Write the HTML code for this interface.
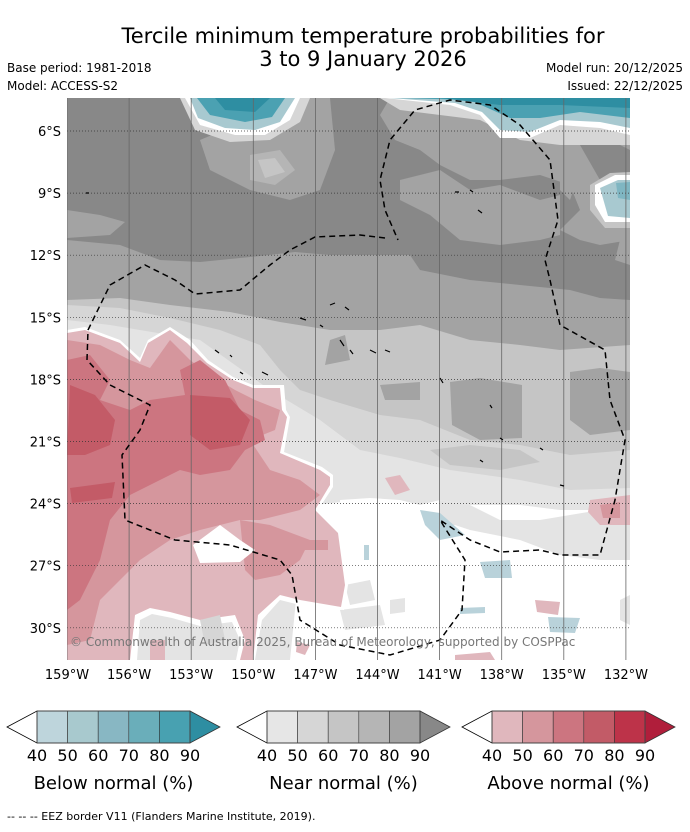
<!DOCTYPE html>
<html><head><meta charset="utf-8"><style>
body{margin:0;background:#fff;width:690px;height:827px;overflow:hidden;font-family:"Liberation Sans",sans-serif}
svg text{font-family:"DejaVu Sans","Liberation Sans",sans-serif}
</style></head><body>
<svg id="s" width="690" height="827">
<text x="363" y="43" font-size="21" text-anchor="middle">Tercile minimum temperature probabilities for</text>
<text x="363" y="66" font-size="21" text-anchor="middle">3 to 9 January 2026</text>
<text x="7" y="72" font-size="12">Base period: 1981-2018</text>
<text x="7" y="90" font-size="12">Model: ACCESS-S2</text>
<text x="683" y="72" font-size="12" text-anchor="end">Model run: 20/12/2025</text>
<text x="683" y="90" font-size="12" text-anchor="end">Issued: 22/12/2025</text>
<defs><clipPath id="c"><rect x="67" y="98" width="563" height="562"/></clipPath></defs>
<g clip-path="url(#c)">
<rect x="67" y="98" width="563" height="562" fill="#a3a3a3"/>
<path fill="#888" d="M67 98H190L200 125 240 140 280 135 300 98H390L380 115 395 140 420 150 440 165 470 180 500 180 540 175 570 185 580 210 560 230 580 240 600 245 630 240V300L600 298 570 290 520 285 470 280 420 270 410 255 330 255 295 252 260 256 200 262 160 260 120 245 67 240Z"/>
<path fill="#a3a3a3" d="M67 210 100 215 125 222 110 235 67 238Z"/>
<path fill="#a3a3a3" d="M300 98H330L335 150 320 190 290 200 250 190 210 170 200 140Z"/>
<path fill="#b5b5b5" d="M250 155 280 150 295 170 275 185 250 180Z"/>
<path fill="#c5c5c5" d="M258 160 275 158 285 172 265 178Z"/>
<path fill="#a3a3a3" d="M400 180 440 170 470 190 500 185 540 200 560 195 560 235 540 240 500 245 460 240 430 215 400 200Z"/>
<path fill="#a3a3a3" d="M560 140 600 135 630 140V150L600 155 580 170 570 200 560 190Z"/>
<path fill="#888" d="M580 145 610 140 630 150V180L600 180Z"/>
<path fill="#a3a3a3" d="M620 240 630 238V265L615 260Z"/>
<path fill="#c5c5c5" d="M67 300 120 298 170 305 230 312 280 322 330 330 380 330 420 325 470 340 520 345 560 350 630 345V660H67Z"/>
<path fill="#a3a3a3" d="M330 340 345 335 350 360 325 365Z"/>
<path fill="#a3a3a3" d="M450 382 480 378 522 385 522 438 480 440 452 425Z"/>
<path fill="#a3a3a3" d="M570 372 600 368 630 372V430L590 435 570 420Z"/>
<path fill="#a3a3a3" d="M380 385 420 382 420 400 385 400Z"/>
<path fill="#d6d6d6" d="M67 305 120 308 170 318 220 330 260 345 280 370 300 390 330 400 380 415 420 420 470 440 520 445 570 455 630 450V660H67Z"/>
<path fill="#c5c5c5" d="M430 450 470 445 520 450 540 462 500 470 450 465Z"/>
<path fill="#e4e4e4" d="M67 320 110 325 200 340 270 390 320 420 360 450 400 458 450 470 520 480 570 490 630 488V660H67Z"/>
<path fill="#fff" d="M315 505 360 500 400 505 430 525 470 525 520 530 560 540 600 545 630 540V660H290L300 560Z"/>
<path fill="#fff" d="M630 505 600 510 560 510 520 505 470 505 440 500 420 505 400 500 370 498 340 500V520L630 525Z"/>
<path fill="#e4e4e4" d="M440 500 470 505 500 520 540 520 600 510 630 505V560L600 560 560 555 520 540 470 530 440 520Z"/>
<path fill="#e4e4e4" d="M345 585 370 580 375 600 350 605Z"/>
<path fill="#e4e4e4" d="M340 610 380 605 385 625 345 630Z"/>
<path fill="#e4e4e4" d="M390 600 405 598 405 612 390 614Z"/>
<path fill="#e4e4e4" d="M620 600 630 595V625L620 620Z"/>
<path fill="#fff" d="M67 330 85 327 120 340 140 358 148 340 170 327 190 340 208 360 233 377 253 385 284 385 286 410 290 417 284 452 322 467 333 475 333 487 318 510 340 533 348 585 344 610 300 605 280 600 262 620 255 660H67Z"/>
<path fill="#e0b7bd" d="M67 333 85 330 120 343 140 362 148 343 170 330 187 343 207 363 233 380 253 388 280 388 282 410 287 417 280 453 320 470 330 477 330 485 315 510 338 533 345 585 341 607 300 600 280 595 258 615 253 660H67Z"/>
<path fill="#d5969d" d="M67 340 100 345 130 360 150 368 170 340 190 360 210 375 235 390 255 400 280 410 275 430 250 440 270 470 300 480 320 495 300 510 260 520 240 520 200 530 170 540 140 560 120 580 100 600 90 640 67 645Z"/>
<path fill="#d5969d" d="M240 520 270 525 310 540 300 560 280 575 255 580 245 570Z"/>
<path fill="#cc7580" d="M67 360 90 355 110 380 100 400 130 410 150 400 185 395 180 370 200 360 225 380 240 410 260 420 265 440 245 450 230 470 200 475 180 470 150 485 130 495 110 520 100 560 80 600 67 610Z"/>
<path fill="#c35b67" d="M70 385 95 395 115 420 110 445 85 455 67 455Z"/>
<path fill="#c35b67" d="M190 395 230 398 250 420 240 445 210 450 190 435Z"/>
<path fill="#c35b67" d="M70 488 115 482 112 498 72 503Z"/>
<path fill="#d5969d" d="M305 540 328 540 328 550 305 550Z"/>
<path fill="#fff" d="M193 545 220 525 240 540 255 550 240 562 200 563Z"/>
<path fill="#fff" d="M130 660 135 615 150 608 170 612 200 620 235 615 245 640 240 660Z"/>
<path fill="#e4e4e4" d="M137 660 140 620 152 614 172 618 200 626 232 622 240 640 236 660Z"/>
<path fill="#d6d6d6" d="M200 620 220 615 225 640 205 645Z"/>
<path fill="#e0b7bd" d="M150 640 165 640 165 660 150 660Z"/>
<path fill="#e0b7bd" d="M297 642 310 645 305 655 296 652Z"/>
<path fill="#e0b7bd" d="M590 500 630 495V525L600 525 588 512Z"/>
<path fill="#d5969d" d="M600 505 620 502 620 518 603 518Z"/>
<path fill="#e0b7bd" d="M385 478 400 475 410 490 395 495Z"/>
<path fill="#e0b7bd" d="M535 600 560 602 558 615 537 612Z"/>
<path fill="#e0b7bd" d="M455 655 490 652 495 660H455Z"/>
<path fill="#b9d2da" d="M420 510 440 513 465 535 440 540 425 525Z"/>
<path fill="#b9d2da" d="M480 562 510 560 512 578 485 578Z"/>
<path fill="#b9d2da" d="M548 617 580 618 575 633 550 632Z"/>
<path fill="#b9d2da" d="M460 608 485 607 485 613 460 614Z"/>
<path fill="#b9d2da" d="M364 545 369 545 369 560 364 560Z"/>
<path fill="#d6d6d6" d="M180 98H310L300 122 270 140 230 142 195 130Z"/>
<path fill="#fff" d="M185 98H300L290 120 265 135 235 135 200 125Z"/>
<path fill="#a8c9d0" d="M190 98H295L280 122 255 130 225 128 198 118Z"/>
<path fill="#4ba1b2" d="M197 98H285L272 117 245 122 210 115Z"/>
<path fill="#2e8ea2" d="M215 98H270L255 112 225 110Z"/>
<path fill="#d6d6d6" d="M380 98H630V145L600 145 560 145 520 140 480 120 440 115 400 110Z"/>
<path fill="#fff" d="M385 98H630V135L600 128 560 125 530 138 500 138 480 115 450 105Z"/>
<path fill="#a8c9d0" d="M390 98H630V128L600 122 560 120 530 132 500 130 482 112 455 103Z"/>
<path fill="#4ba1b2" d="M400 98H630V118L580 112 540 118 510 118 470 100Z"/>
<path fill="#2e8ea2" d="M440 98H630V108L560 105 500 105Z"/>
<path fill="#c5c5c5" d="M590 185 610 173 630 172V228L605 228 590 210Z"/>
<path fill="#fff" d="M595 185 615 175 630 175V222L605 222 595 205Z"/>
<path fill="#a8c9d0" d="M600 188 618 180 630 180V218L608 216Z"/>
<path fill="#7fb6c2" d="M616 183 630 182V200L618 198Z"/>
<g id="grid"></g>
<path fill="none" stroke="#000" stroke-width="1.5" stroke-dasharray="6,4" d="M385 238 360 235 315 237 290 250 270 265 240 290 195 294 175 280 145 265 110 285 88 330 87 360 110 385 150 405 140 430 122 455 125 520 150 530 175 540 230 545 280 560 292 575 300 620 340 645 390 655 440 640 462 610 465 560 440 520 470 540 500 552 540 550 560 555 600 555 615 500 625 440 610 400 605 350 560 325 550 280 545 260 558 220 550 160 520 125 490 105 450 100 415 110 390 140 380 180 385 210 398 240"/>
<path fill="none" stroke="#000" stroke-width="1.2" d="M330 305l5-2M345 307l4 3M300 318l6 2M320 325l3 2M215 350l4 3M230 355l2 2M340 340l4 6M350 350l3 4M370 350l6 3M385 350l5 2M240 372l3 2M262 372l6 3M440 378l3 5M490 405l2 3M480 460l3 2M500 438l3 2M540 448l3 2M560 485l4 1M455 192l4 0M470 190l3 2M478 210l4 3M86 193l3 0"/>
<text x="70" y="646" font-size="12" fill="#777">© Commonwealth of Australia 2025, Bureau of Meteorology, supported by COSPPac</text>
</g>
<g id="ticks"></g>
<g id="bars"></g>
<text x="7" y="820" font-size="11">--  --  -- EEZ border V11 (Flanders Marine Institute, 2019).</text>
</svg>
<script>
const latLabels=["6°S","9°S","12°S","15°S","18°S","21°S","24°S","27°S","30°S"];
const latVals=[6,9,12,15,18,21,24,27,30];
const lonLabels=["159°W","156°W","153°W","150°W","147°W","144°W","141°W","138°W","135°W","132°W"];
const lonVals=[159,156,153,150,147,144,141,138,135,132];
const blueCols=["#bed5dc","#a8c9ce","#88b7c3","#6aaeba","#48a1b1","#2e8ea2"];
const greyCols=["#e6e6e6","#d6d6d6","#c5c5c5","#b5b5b5","#a3a3a3","#888888"];
const redCols=["#e0b7bd","#d5969d","#cc7580","#c25b67","#bd3349","#b01e3b"];
const cbLabels=["40","50","60","70","80","90"];
const NS="http://www.w3.org/2000/svg";
const yLat=v=>131+(v-6)*(62.1/3);
const xLon=v=>67+(159-v)*(62.1/3);
function mk(t,a,p){const e=document.createElementNS(NS,t);for(const k in a)e.setAttribute(k,a[k]);p.appendChild(e);return e;}
const g=document.getElementById('grid'),tk=document.getElementById('ticks'),b=document.getElementById('bars');
latVals.forEach((v,i)=>{const y=yLat(v);
 const l=mk('line',{x1:67,x2:630,y1:y,y2:y,stroke:'#333','stroke-width':0.7,'stroke-dasharray':'1,2'},g);
 
 
 const t=mk('text',{x:61,y:y+5,'font-size':13,'text-anchor':'end'},tk);t.textContent=latLabels[i];
 
 });
lonVals.forEach((v,i)=>{const x=xLon(v);
 const l=mk('line',{x1:x,x2:x,y1:98,y2:660,stroke:'#666','stroke-width':0.8},g);
 
 
 const t=mk('text',{x:x,y:679,'font-size':13,'text-anchor':'middle'},tk);t.textContent=lonLabels[i];
 
 });
function bar(x0,cols,title,name){
 const gg=mk('g',{},b);
 
 
 const w=30.6,y=711,h=32,a=30;
 mk('polygon',{points:`${x0},${y+h/2} ${x0+a},${y} ${x0+a},${y+h}`,fill:'#fff',stroke:'#000','stroke-width':0.8},gg);
 cols.slice(0,5).forEach((c,i)=>{mk('rect',{x:x0+a+i*w,y:y,width:w,height:h,fill:c,stroke:'#333','stroke-width':0.6},gg);});
 const xe=x0+a+5*w;
 mk('polygon',{points:`${xe},${y} ${xe+a},${y+h/2} ${xe},${y+h}`,fill:cols[5],stroke:'#333','stroke-width':0.8},gg);
 mk('rect',{x:x0+a,y:y,width:5*w,height:h,fill:'none',stroke:'#444','stroke-width':1},gg);
 cbLabels.forEach((l,i)=>{const t=mk('text',{x:x0+a+i*w,y:761,'font-size':16,'text-anchor':'middle'},gg);t.textContent=l;});
 const t=mk('text',{x:x0+a+2.5*w,y:789,'font-size':18,'text-anchor':'middle'},gg);t.textContent=title;
}
bar(7,blueCols,"Below normal (%)","colorbar-below-normal");
bar(237,greyCols,"Near normal (%)","colorbar-near-normal");
bar(462,redCols,"Above normal (%)","colorbar-above-normal");
</script>
</body></html>
